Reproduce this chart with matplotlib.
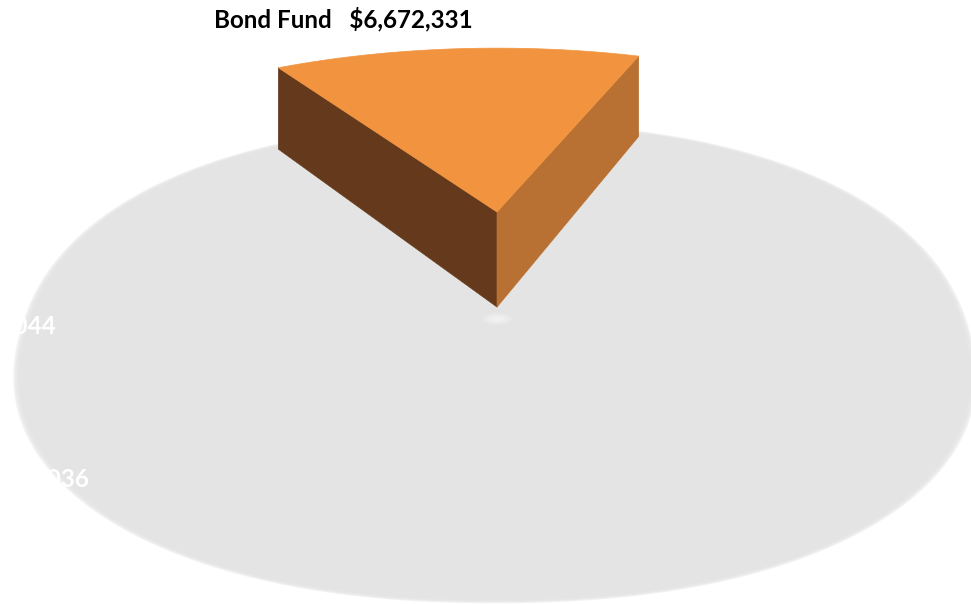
import matplotlib.pyplot as plt
import numpy as np
from matplotlib.patches import Polygon, Ellipse

# data
funds = ['Bond Fund', 'Growth Fund', 'Income Fund', 'Index Fund']
balances = [6672331, 27214389, 5418036, 8455044]
shown = 'Bond Fund'

# layout, in pixels of the 971x604 canvas
W, H = 971, 604
first_angle = 120.7      # where the first slice starts (degrees, ccw from 3 o'clock), slices go clockwise
radius = 500
depth = 95
tilt = 0.4287
persp = 3.9e-4
apex = (497, 307)
# shadow on the floor: centre, half width, half height, perspective, squareness
shadow = dict(cx=495, cy=327, a=468, b=232, k=0.15, p=2.2)
label_pos = {'Bond Fund': (343, 19, 'center', 'black'),
             'Income Fund': (89, 478, 'right', 'white'),
             'Index Fund': (56, 325, 'right', 'white')}

top_col = '#F2943F'
left_col = '#653A1C'
right_col = '#B87033'
shadow_col = '#E4E4E4'


def project(a, r, z):
    a = np.radians(a)
    X = r * np.cos(a)
    Y = r * np.sin(a)
    w = 1 / (1 + persp * Y)
    return apex[0] + X * w, apex[1] - (tilt * Y + z) * w


def wall(a):
    return [project(a, 0, depth), project(a, radius, depth),
            project(a, radius, 0), project(a, 0, 0)]


def shadow_outline(scale):
    t = np.linspace(0, 2 * np.pi, 400)
    e = 2 / shadow['p']
    c = np.sign(np.cos(t)) * np.abs(np.cos(t)) ** e
    s = np.sign(np.sin(t)) * np.abs(np.sin(t)) ** e
    w = 1 / (1 + shadow['k'] * s)
    x = shadow['cx'] + shadow['a'] * scale * c * w
    y = shadow['cy'] - shadow['b'] * scale * s * w
    return np.column_stack([x, y])


def pie3d():
    fig = plt.figure(figsize=(W / 100, H / 100), dpi=100)
    ax = fig.add_axes([0, 0, 1, 1])
    ax.set_xlim(0, W)
    ax.set_ylim(H, 0)
    ax.axis('off')

    # soft grey shadow under the whole pie
    n = 8
    for i in range(n):
        sc = 1.012 - 0.024 * i / (n - 1)
        ax.add_patch(Polygon(shadow_outline(sc), closed=True, facecolor=shadow_col,
                             edgecolor='none', alpha=0.45))
    # faint light spot under the slice tip
    for i in range(6):
        ax.add_patch(Ellipse((apex[0], apex[1] + 12), 30 - 4 * i, 12 - 1.6 * i,
                             facecolor='white', edgecolor='none', alpha=0.12))

    vals = np.array(balances, dtype=float)
    spans = 360 * vals / vals.sum()
    starts = first_angle - np.concatenate([[0], np.cumsum(spans)[:-1]])

    for name, a0, sp in zip(funds, starts, spans):
        a1 = a0 - sp
        if name == shown:
            ax.add_patch(Polygon(wall(a0), closed=True, facecolor=left_col,
                                 edgecolor=left_col, lw=0.5, joinstyle='round'))
            ax.add_patch(Polygon(wall(a1), closed=True, facecolor=right_col,
                                 edgecolor=right_col, lw=0.5, joinstyle='round'))
            arc = np.linspace(a0, a1, 80)
            pts = [project(0, 0, depth)] + [project(t, radius, depth) for t in arc]
            ax.add_patch(Polygon(pts, closed=True, facecolor=top_col,
                                 edgecolor=top_col, lw=0.5))
        if name in label_pos:
            x, y, ha, col = label_pos[name]
            i = funds.index(name)
            ax.text(x, y, '%s   $%s' % (name, format(balances[i], ',')), ha=ha, va='center',
                    color=col, fontsize=17.4, fontweight='bold')

    plt.savefig('out.png', dpi=100)


if __name__ == '__main__':
    plt.rcParams['font.family'] = ['Lato', 'DejaVu Sans']
    pie3d()
